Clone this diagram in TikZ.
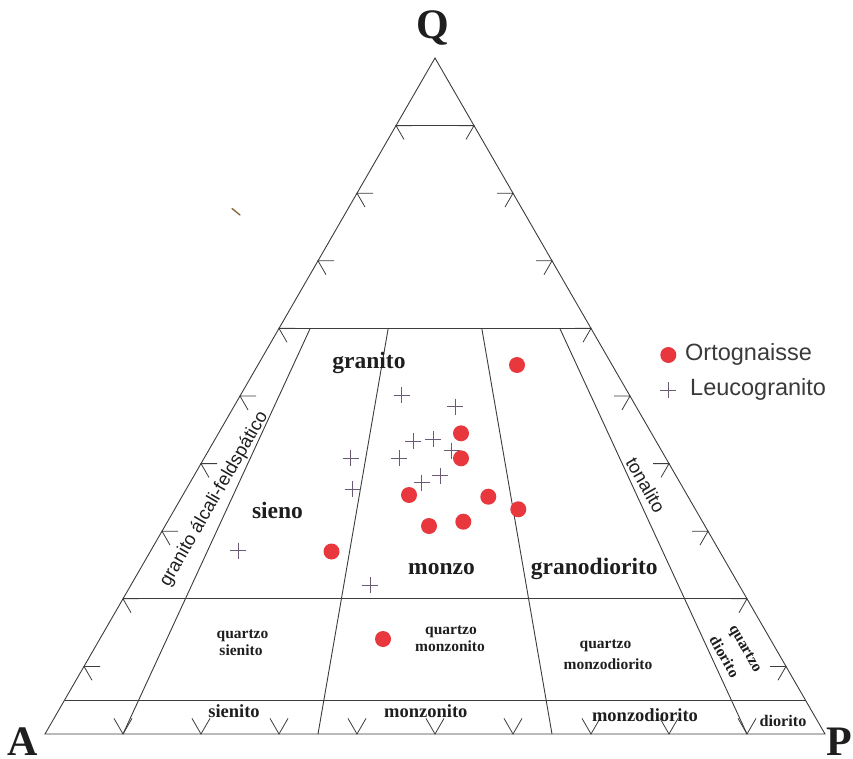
\documentclass[tikz,border=0pt]{standalone}
\usepackage{fontspec}
\setmainfont{Liberation Serif}
\setsansfont{Liberation Sans}
\usetikzlibrary{calc}
\definecolor{ln}{HTML}{3C3C3C}
\definecolor{dotred}{HTML}{E8383D}
\definecolor{pluscol}{HTML}{6A5A74}
\definecolor{txt}{HTML}{1E1E1E}
\definecolor{legtxt}{HTML}{3A3A3A}
\definecolor{speck}{HTML}{8A6A40}
\begin{document}
\begin{tikzpicture}[x=1pt,y=-1pt,
  edge/.style={draw=ln, line width=0.9pt},
  tickmark/.style={draw=ln, line width=0.8pt},
  fieldlbl/.style={font=\fontsize{23.5}{26}\selectfont\bfseries, text=txt, inner sep=0pt, anchor=base},
  smalllbl/.style={font=\fontsize{15.5}{18}\selectfont\bfseries, text=txt, inner sep=0pt, anchor=base},
  baselbl/.style={font=\fontsize{18.5}{20}\selectfont\bfseries, text=txt, inner sep=0pt, anchor=base},
  sanslbl/.style={font=\sffamily\fontsize{18.5}{20}\selectfont, text=txt, inner sep=0pt},
  cornerlbl/.style={font=\fontsize{42}{42}\selectfont\bfseries, text=txt, inner sep=0pt, anchor=base},
  legendlbl/.style={font=\sffamily\fontsize{23.5}{26}\selectfont, text=legtxt, inner sep=0pt, anchor=base west},
  ortho/.style={circle, fill=dotred, minimum size=16pt, inner sep=0pt},
  leuco/.style={draw=pluscol, line width=0.9pt}
]
\useasboundingbox (0,0) rectangle (853,759);

% corners
\coordinate (A) at (45,734);
\coordinate (P) at (825,734);
\coordinate (Q) at (435,58);
\draw[edge, line join=miter] (A) -- (P) -- (Q) -- cycle;

% horizontal field boundaries
\foreach \q/\n in {0.9/90,0.6/60,0.2/20,0.05/5} {
  \coordinate (L\n) at ($(A)!\q!(Q)$);
  \coordinate (R\n) at ($(P)!\q!(Q)$);
  \draw[edge] (L\n) -- (R\n);
}

% radial field boundaries
\foreach \p/\n in {0.1/10,0.35/35,0.65/65,0.9/90} {
  \coordinate (B\n) at ($(A)!\p!(P)$);
  \coordinate (T\n) at ($(B\n)!0.6!(Q)$);
  \draw[edge] (T\n) -- (B\n);
}

% tick marks on the sides
\foreach \q in {0.1,0.2,0.3,0.4,0.5,0.6,0.7,0.8,0.9} {
  \coordinate (tl) at ($(A)!\q!(Q)$);
  \coordinate (tr) at ($(P)!\q!(Q)$);
  \draw[tickmark] ($(tl)+(16,0)$) -- (tl) -- ($(tl)+(8,13.86)$);
  \draw[tickmark] ($(tr)+(-16,0)$) -- (tr) -- ($(tr)+(-8,13.86)$);
}
\foreach \p in {0.1,0.2,0.3,0.4,0.5,0.6,0.7,0.8,0.9} {
  \coordinate (tb) at ($(A)!\p!(P)$);
  \draw[tickmark] ($(tb)+(-9,-15.6)$) -- (tb) -- ($(tb)+(9,-15.6)$);
}

% small speck
\draw[speck, line width=1.4pt, line cap=round] (232,208.5) -- (240,215);

% corner labels
\node[cornerlbl] (lq) at (433,38.5) {Q};
\node[cornerlbl] (la) at (22.5,755) {A};
\node[cornerlbl] (lp) at (839,755) {P};

% field labels
\node[fieldlbl] (granito) at (369,368) {granito};
\node[fieldlbl] (sieno) at (277.5,518) {sieno};
\node[fieldlbl] (monzo) at (441.5,574) {monzo};
\node[fieldlbl] (granodiorito) at (594.3,574) {granodiorito};

\node[sanslbl, rotate=60] (afg) at (214.2,499.2) {granito álcali-feldspático};
\node[sanslbl, rotate=-60] (ton) at (645.8,485) {tonalito};

\node[smalllbl] (qs1) at (242.5,638.3) {quartzo};
\node[smalllbl] (qs2) at (241,655) {sienito};
\node[smalllbl] (qm1) at (451,634) {quartzo};
\node[smalllbl] (qm2) at (450,651.7) {monzonito};
\node[smalllbl] (qmd1) at (605.5,648) {quartzo};
\node[smalllbl] (qmd2) at (608,669) {monzodiorito};
\node[smalllbl, anchor=center, rotate=-60] (qd1) at (744.2,649.2) {quartzo};
\node[smalllbl, anchor=center, rotate=-60] (qd2) at (724.7,656.7) {diorito};

\node[baselbl] (sien) at (234,717) {sienito};
\node[baselbl] (monz) at (425.8,717) {monzonito};
\node[baselbl] (mzd) at (645,721) {monzodiorito};
\node[smalllbl, font=\fontsize{16.2}{18}\selectfont\bfseries] (dio) at (783,726.5) {diorito};

% Ortognaisse samples
\foreach \x/\y [count=\i] in {517/365, 461/433.3, 461/458.3, 409/495, 488.3/496.7,
  518.3/509.3, 463.3/521.7, 429/526, 331.5/551.5, 383/639} {
  \node[ortho] (o\i) at (\x,\y) {};
}

% Leucogranito samples
\foreach \x/\y in {401.7/395, 455/406.7, 413.3/441, 433.3/439.3, 451.7/450.7,
  350.7/458.3, 399/458.3, 440/475.7, 421.7/482.7, 352.7/489.3, 238.3/550.7, 370/585} {
  \draw[leuco] (\x,\y) ++(-8,0) -- ++(16,0) ++(-8,-8) -- ++(0,16);
}

% legend
\node[ortho] (lgdot) at (668.3,355) {};
\draw[leuco] (668.3,390) ++(-8,0) -- ++(16,0) ++(-8,-8) -- ++(0,16);
\node[legendlbl] (lgo) at (685,360) {Ortognaisse};
\node[legendlbl] (lgl) at (690,395) {Leucogranito};
\end{tikzpicture}
\end{document}
